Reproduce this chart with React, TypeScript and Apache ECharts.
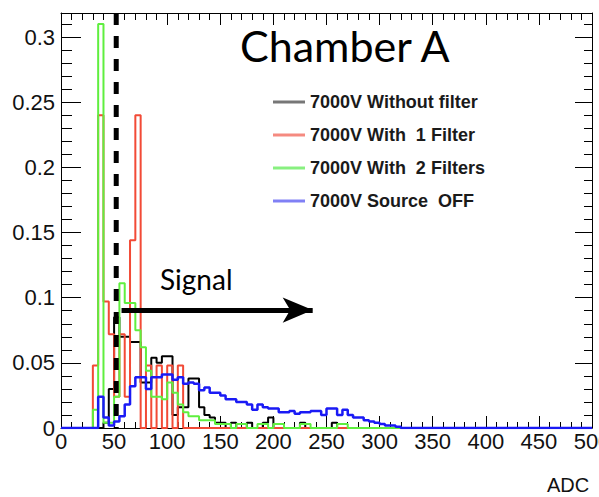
import React, { useEffect, useRef } from 'react';
import * as echarts from 'echarts';

// Histogram binning (ADC units)
const BIN_WIDTH = 5;
const X_MIN = 0;
const X_MAX = 500;
const Y_MIN = 0;
const Y_MAX = 0.3185;

const seriesNames = [
  '7000V Without filter',
  '7000V With  1 Filter',
  '7000V With  2 Filters',
  '7000V Source  OFF',
];

// bin contents, bins start at ADC 0, width 5
const withoutFilter = [
  0, 0, 0, 0, 0, 0, 0, 0, 0.004, 0.03,
  0.085, 0.07, 0.07, 0.066, 0.066, 0.035, 0.035, 0.054, 0.05, 0.055,
  0.055, 0.01, 0.016, 0.016, 0.038, 0.038, 0.016, 0.01, 0.008, 0.004,
  0.004, 0, 0.004, 0, 0, 0.004, 0, 0, 0.004, 0.008,
  0, 0, 0, 0, 0, 0.004, 0, 0, 0, 0,
  0, 0.004, 0,
];
const oneFilter = [
  0, 0, 0, 0, 0, 0, 0.048, 0.24, 0.097, 0.072,
  0.024, 0.072, 0.024, 0.144, 0.24, 0, 0.048, 0, 0.048, 0,
  0.048, 0, 0.048, 0,
];
const twoFilters = [
  0, 0, 0, 0, 0, 0, 0.014, 0.31, 0.004, 0.004,
  0.024, 0.111, 0.096, 0.096, 0.075, 0.062, 0.044, 0.024, 0.024, 0.022,
  0.035, 0.027, 0.018, 0.012, 0.009, 0.009, 0.006, 0.006, 0.006, 0.003,
  0.003, 0.003, 0, 0.003, 0.003, 0, 0, 0.003, 0.003, 0,
  0.003, 0.003, 0, 0, 0, 0.003, 0.003, 0, 0, 0,
  0, 0, 0.003, 0.003, 0,
];
const sourceOff = [
  0, 0, 0, 0, 0, 0, 0, 0.024, 0.008, 0.002,
  0.005, 0.009, 0.018, 0.032, 0.039, 0.039, 0.03, 0.039, 0.039, 0.041,
  0.041, 0.037, 0.039, 0.034, 0.035, 0.034, 0.029, 0.031, 0.027, 0.027,
  0.025, 0.022, 0.022, 0.02, 0.02, 0.018, 0.014, 0.018, 0.016, 0.015,
  0.015, 0.012, 0.012, 0.013, 0.011, 0.012, 0.012, 0.013, 0.013, 0.01,
  0.015, 0.015, 0.01, 0.014, 0.01, 0.008, 0.008, 0.006, 0.005, 0.004,
  0.003, 0.002, 0.002, 0.001, 0,
];

const seriesData = [withoutFilter, oneFilter, twoFilters, sourceOff];
const seriesColors = ['#000000', '#f24a36', '#5fef3f', '#1a1af5'];
const legendColors = ['#777777', '#f58a80', '#88f080', '#8080f5'];
const seriesWidths = [2, 2, 2, 2.5];

// annotations
const cutAdc = 52;
const arrowStart = [57, 0.0905];
const arrowEnd = [237, 0.0905];

function steps(vals: number[]) {
  const pts: number[][] = vals.map((v, i) => [X_MIN + i * BIN_WIDTH, v]);
  pts.push([X_MIN + vals.length * BIN_WIDTH, 0]);
  pts.push([X_MAX, 0]);
  return pts;
}

const AXIS_FONT = '"Liberation Sans", Arial, sans-serif';

export default function App() {
  const ref = useRef<HTMLDivElement>(null);
  useEffect(() => {
    if (!ref.current) return;
    const chart = echarts.init(ref.current, undefined, { renderer: 'svg' });
    const black = { color: '#000', width: 1 };
    const gridPos = { left: 61, top: 13, right: 7, bottom: 69, containLabel: false, outerBoundsMode: 'none' };
    const line = (show: boolean) => ({ show, onZero: false, lineStyle: black });
    const option: any = {
      animation: false,
      backgroundColor: '#fff',
      grid: [
        { ...gridPos, show: false },
        { ...gridPos, show: false },
      ],
      xAxis: [
        {
          type: 'value', gridIndex: 0, position: 'bottom', min: X_MIN, max: X_MAX, interval: 50,
          axisLine: line(true),
          axisTick: { show: true, inside: true, length: 12, lineStyle: black },
          axisLabel: { show: true, fontSize: 22, fontFamily: AXIS_FONT, color: '#111', margin: 2, showMaxLabel: true },
          splitLine: { show: false },
        },
        {
          type: 'value', gridIndex: 0, position: 'top', min: X_MIN, max: X_MAX, interval: 50,
          axisLine: line(true),
          axisTick: { show: true, inside: true, length: 12, lineStyle: black },
          axisLabel: { show: false },
          splitLine: { show: false },
        },
        {
          type: 'value', gridIndex: 1, position: 'bottom', min: X_MIN, max: X_MAX, interval: 10,
          axisLine: line(false),
          axisTick: { show: true, inside: true, length: 6, lineStyle: black },
          axisLabel: { show: false },
          splitLine: { show: false },
        },
        {
          type: 'value', gridIndex: 1, position: 'top', min: X_MIN, max: X_MAX, interval: 10,
          axisLine: line(false),
          axisTick: { show: true, inside: true, length: 7, lineStyle: black },
          axisLabel: { show: false },
          splitLine: { show: false },
        },
      ],
      yAxis: [
        {
          type: 'value', gridIndex: 0, position: 'left', min: Y_MIN, max: Y_MAX, interval: 0.05,
          axisLine: line(true),
          axisTick: { show: true, inside: true, length: 20, lineStyle: black },
          axisLabel: { show: true, fontSize: 22, fontFamily: AXIS_FONT, color: '#111', margin: 6, showMaxLabel: false },
          splitLine: { show: false },
        },
        {
          type: 'value', gridIndex: 0, position: 'right', min: Y_MIN, max: Y_MAX, interval: 0.05,
          axisLine: line(true),
          axisTick: { show: true, inside: true, length: 17, lineStyle: black },
          axisLabel: { show: false },
          splitLine: { show: false },
        },
        {
          type: 'value', gridIndex: 1, position: 'left', min: Y_MIN, max: Y_MAX, interval: 0.01,
          axisLine: line(false),
          axisTick: { show: true, inside: true, length: 11, lineStyle: black },
          axisLabel: { show: false },
          splitLine: { show: false },
        },
        {
          type: 'value', gridIndex: 1, position: 'right', min: Y_MIN, max: Y_MAX, interval: 0.01,
          axisLine: line(false),
          axisTick: { show: true, inside: true, length: 8, lineStyle: black },
          axisLabel: { show: false },
          splitLine: { show: false },
        },
      ],
      legend: {
        orient: 'vertical',
        left: 268,
        top: 88,
        itemWidth: 32,
        itemHeight: 3,
        itemGap: 15,
        icon: 'rect',
        textStyle: { fontSize: 18, fontWeight: 'bold', fontFamily: AXIS_FONT, color: '#1a1a1a', lineHeight: 18 },
        data: seriesNames.map((n, i) => ({ name: n, itemStyle: { color: legendColors[i] } })),
        selectedMode: false,
      },
      series: [
        ...seriesNames.map((name, i) => ({
          name,
          type: 'line',
          xAxisIndex: 0,
          yAxisIndex: 0,
          step: 'end',
          symbol: 'none',
          data: steps(seriesData[i]),
          color: seriesColors[i],
          lineStyle: { color: seriesColors[i], width: seriesWidths[i] },
          z: 2 + i,
        })),
        {
          name: 'cut',
          type: 'line',
          xAxisIndex: 0,
          yAxisIndex: 0,
          symbol: 'none',
          data: [[cutAdc, Y_MAX], [cutAdc, 0]],
          lineStyle: { color: '#000', width: 5, type: [12, 11] },
          z: 10,
          markLine: {
            silent: true,
            symbol: ['none', 'arrow'],
            symbolSize: [19, 30],
            label: { show: false },
            lineStyle: { color: '#000', width: 5, type: 'solid' },
            data: [[{ coord: arrowStart }, { coord: arrowEnd }]],
          },
        },
      ],
      graphic: [
        {
          type: 'text', left: 240, top: 24,
          style: { text: 'Chamber A', font: '43px Lato, "Open Sans", sans-serif', fill: '#000' },
        },
        {
          type: 'text', left: 160, top: 265,
          style: { text: 'Signal', font: '28px Lato, "Open Sans", sans-serif', fill: '#000' },
        },
        {
          type: 'text', left: 547, top: 475,
          style: { text: 'ADC', font: '20px "Liberation Sans", Arial, sans-serif', lineHeight: 20, fill: '#111' },
        },
      ],
    };
    chart.setOption(option);
    return () => chart.dispose();
  }, []);
  return (
    <div
      ref={ref}
      style={{ position: 'fixed', left: 0, top: 0, width: 599, height: 497, background: '#fff' }}
    />
  );
}
